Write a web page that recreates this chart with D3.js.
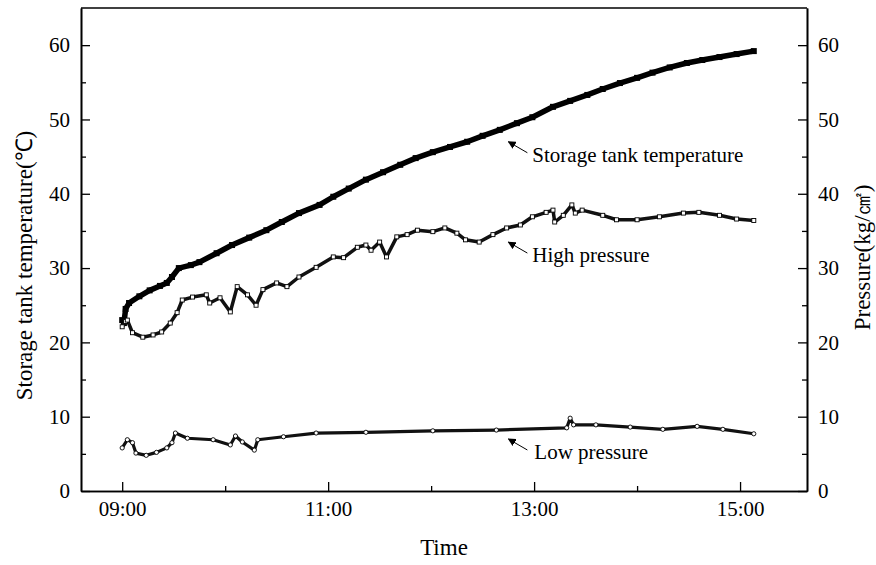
<!DOCTYPE html>
<html>
<head>
<meta charset="utf-8">
<script src="https://cdn.jsdelivr.net/npm/d3@7"></script>
<style>
  body { margin: 0; background: #fff; }
  svg text { font-family: "Liberation Serif", "Times New Roman", serif; fill: #000; }
</style>
</head>
<body>
<svg id="chart"></svg>
<script>
// storage tank temperature (left axis, ℃)
var tempTimes = ["09:00", "09:01", "09:02", "09:04", "09:10", "09:16", "09:22", "09:26", "09:29", "09:33",
                 "09:40", "09:45", "09:55", "10:04", "10:14", "10:24", "10:33", "10:43", "10:55", "11:03",
                 "11:12", "11:22", "11:32", "11:42", "11:51", "12:01", "12:11", "12:21", "12:30", "12:40",
                 "12:50", "12:59", "13:11", "13:21", "13:31", "13:40", "13:50", "14:00", "14:09", "14:19",
                 "14:29", "14:38", "14:48", "14:58", "15:08"];
var tempValues = [23.0, 22.6, 24.5, 25.3, 26.2, 27.0, 27.6, 28.0, 28.8, 30.0,
                  30.4, 30.8, 32.0, 33.1, 34.1, 35.1, 36.2, 37.4, 38.5, 39.6,
                  40.7, 41.9, 42.9, 43.9, 44.8, 45.6, 46.3, 47.0, 47.8, 48.6,
                  49.5, 50.3, 51.7, 52.5, 53.3, 54.1, 54.9, 55.6, 56.3, 57.0,
                  57.6, 58.0, 58.4, 58.8, 59.2];

// high pressure (right axis, kg/㎠)
var highTimes = ["09:00", "09:02", "09:03", "09:06", "09:12", "09:18", "09:23", "09:28", "09:32", "09:35",
                 "09:41", "09:49", "09:51", "09:57", "10:03", "10:07", "10:13", "10:18", "10:22", "10:30",
                 "10:36", "10:43", "10:53", "11:03", "11:09", "11:17", "11:22", "11:25", "11:30", "11:34",
                 "11:40", "11:46", "11:52", "12:01", "12:08", "12:15", "12:20", "12:28", "12:36", "12:44",
                 "12:52", "12:59", "13:07", "13:11", "13:12", "13:17", "13:22", "13:24", "13:28", "13:40",
                 "13:48", "14:00", "14:13", "14:27", "14:36", "14:48", "14:58", "15:08"];
var highValues = [22.1, 22.8, 23.0, 21.3, 20.7, 21.0, 21.4, 22.6, 24.0, 25.7,
                  26.1, 26.4, 25.3, 26.0, 24.1, 27.5, 26.4, 25.0, 27.1, 28.0,
                  27.5, 28.8, 30.1, 31.5, 31.4, 32.8, 33.1, 32.4, 33.5, 31.5,
                  34.2, 34.5, 35.1, 34.9, 35.4, 34.7, 33.8, 33.5, 34.5, 35.4,
                  35.8, 36.9, 37.5, 37.8, 36.2, 37.1, 38.5, 37.4, 37.8, 37.1,
                  36.5, 36.5, 36.9, 37.4, 37.5, 37.1, 36.6, 36.4];

// low pressure (right axis, kg/㎠)
var lowTimes = ["09:00", "09:03", "09:06", "09:08", "09:14", "09:20", "09:26", "09:29", "09:31", "09:38",
                "09:53", "10:03", "10:06", "10:10", "10:17", "10:19", "10:34", "10:53", "11:22", "12:01",
                "12:38", "13:19", "13:21", "13:23", "13:36", "13:56", "14:15", "14:35", "14:50", "15:08"];
var lowValues = [5.8, 6.9, 6.5, 5.1, 4.8, 5.2, 5.8, 6.5, 7.8, 7.1,
                 6.9, 6.2, 7.4, 6.6, 5.5, 6.9, 7.3, 7.8, 7.9, 8.1,
                 8.2, 8.5, 9.8, 8.9, 8.9, 8.6, 8.3, 8.7, 8.3, 7.7];

var xTickLabels = ["09:00", "11:00", "13:00", "15:00"];
var xMinorTicks = ["10:00", "12:00", "14:00"];
var yTicks = [0, 10, 20, 30, 40, 50, 60];
var yMinorTicks = [5, 15, 25, 35, 45, 55];

// annotation: text, arrow tip at [time, value]
var labelNames = ["Storage tank temperature", "High pressure", "Low pressure"];
var labelTimes = ["12:45", "12:45", "12:45"];
var labelValues = [47.0, 33.5, 7.0];

var W = 876, H = 565;
var margin = { top: 8, right: 69, bottom: 74, left: 81 };
var width = W - margin.left - margin.right,
    height = H - margin.top - margin.bottom;

var parse = d3.timeParse("%H:%M");

var svg = d3.select("#chart")
    .attr("width", W)
    .attr("height", H);

var g = svg.append("g")
    .attr("transform", "translate(" + margin.left + "," + margin.top + ")");

var x = d3.scaleTime()
    .domain([parse("08:36"), parse("15:39")])
    .range([0, width]);

var y = d3.scaleLinear()
    .domain([0, 65])
    .range([height, 0]);

var yP = d3.scaleLinear()
    .domain([0, 65])
    .range([height, 0]);

// axes
var xAxis = d3.axisBottom(x)
    .tickValues(xTickLabels.map(parse))
    .tickFormat(d3.timeFormat("%H:%M"))
    .tickSizeInner(-9).tickSizeOuter(0).tickPadding(10);
var xMinor = d3.axisBottom(x)
    .tickValues(xMinorTicks.map(parse))
    .tickFormat("")
    .tickSizeInner(-5).tickSizeOuter(0);
var yAxis = d3.axisLeft(y).tickValues(yTicks)
    .tickSizeInner(-9).tickSizeOuter(0).tickPadding(11);
var yMinor = d3.axisLeft(y).tickValues(yMinorTicks).tickFormat("")
    .tickSizeInner(-5).tickSizeOuter(0);
var yRight = d3.axisRight(yP).tickValues(yTicks)
    .tickSizeInner(-9).tickSizeOuter(0).tickPadding(11);
var yRightMinor = d3.axisRight(yP).tickValues(yMinorTicks).tickFormat("")
    .tickSizeInner(-5).tickSizeOuter(0);

function styleAxis(sel) {
    sel.selectAll(".domain").attr("stroke", "#000").attr("stroke-width", 1.6);
    sel.selectAll(".tick line").attr("stroke", "#000").attr("stroke-width", 1.3);
    sel.selectAll("text").style("font-size", "21px").attr("fill", "#000");
}

g.append("g").attr("transform", "translate(0," + height + ")").call(xAxis).call(styleAxis);
g.append("g").attr("transform", "translate(0," + height + ")").call(xMinor).call(styleAxis);
g.append("g").call(yAxis).call(styleAxis);
g.append("g").call(yMinor).call(styleAxis);
g.append("g").attr("transform", "translate(" + width + ",0)").call(yRight).call(styleAxis);
g.append("g").attr("transform", "translate(" + width + ",0)").call(yRightMinor).call(styleAxis);

g.append("line")
    .attr("x1", 0).attr("x2", width).attr("y1", 0).attr("y2", 0)
    .attr("stroke", "#000").attr("stroke-width", 1.6);

// axis titles
svg.append("text")
    .attr("transform", "translate(32," + (margin.top + height / 2 + 16) + ") rotate(-90)")
    .attr("text-anchor", "middle")
    .style("font-size", "23px")
    .text("Storage tank temperature(℃)");

svg.append("text")
    .attr("transform", "translate(870," + (margin.top + height / 2 + 8) + ") rotate(-90)")
    .attr("text-anchor", "middle")
    .style("font-size", "23px")
    .text("Pressure(kg/㎠)");

svg.append("text")
    .attr("x", margin.left + width / 2)
    .attr("y", 555)
    .attr("text-anchor", "middle")
    .style("font-size", "23px")
    .text("Time");

// series
function series(times, values) {
    return times.map(function(t, i) { return { t: parse(t), v: values[i] }; });
}
var tempData = series(tempTimes, tempValues),
    highData = series(highTimes, highValues),
    lowData = series(lowTimes, lowValues);

var lineT = d3.line().x(function(d) { return x(d.t); }).y(function(d) { return y(d.v); });
var lineP = d3.line().x(function(d) { return x(d.t); }).y(function(d) { return yP(d.v); });

g.append("path").datum(tempData)
    .attr("d", lineT).attr("fill", "none")
    .attr("stroke", "#000").attr("stroke-width", 5.5).attr("stroke-linejoin", "round");
g.selectAll(".pt-temp").data(tempData).enter().append("rect")
    .attr("class", "pt-temp")
    .attr("x", function(d) { return x(d.t) - 3; })
    .attr("y", function(d) { return y(d.v) - 3; })
    .attr("width", 6).attr("height", 6)
    .attr("fill", "#000");

g.append("path").datum(highData)
    .attr("d", lineP).attr("fill", "none")
    .attr("stroke", "#111").attr("stroke-width", 3.5).attr("stroke-linejoin", "round");
g.selectAll(".pt-high").data(highData).enter().append("rect")
    .attr("class", "pt-high")
    .attr("x", function(d) { return x(d.t) - 2; })
    .attr("y", function(d) { return yP(d.v) - 2; })
    .attr("width", 4).attr("height", 4)
    .attr("fill", "#fff").attr("stroke", "#000").attr("stroke-width", 0.9);

g.append("path").datum(lowData)
    .attr("d", lineP).attr("fill", "none")
    .attr("stroke", "#111").attr("stroke-width", 3.2).attr("stroke-linejoin", "round");
g.selectAll(".pt-low").data(lowData).enter().append("circle")
    .attr("class", "pt-low")
    .attr("cx", function(d) { return x(d.t); })
    .attr("cy", function(d) { return yP(d.v); })
    .attr("r", 2.1)
    .attr("fill", "#fff").attr("stroke", "#000").attr("stroke-width", 0.9);

// annotations with arrows
svg.append("defs").append("marker")
    .attr("id", "arrow")
    .attr("viewBox", "0 0 10 10")
    .attr("refX", 9).attr("refY", 5)
    .attr("markerWidth", 8).attr("markerHeight", 8)
    .attr("markerUnits", "userSpaceOnUse")
    .attr("orient", "auto")
    .append("path")
    .attr("d", "M0,0 L10,5 L0,10 Z")
    .attr("fill", "#000");

labelNames.forEach(function(name, i) {
    var tx = x(parse(labelTimes[i])), ty = y(labelValues[i]);
    g.append("line")
        .attr("x1", tx + 19).attr("y1", ty + 11)
        .attr("x2", tx).attr("y2", ty)
        .attr("stroke", "#000").attr("stroke-width", 1)
        .attr("marker-end", "url(#arrow)");
    g.append("text")
        .attr("x", tx + 24 + (i === 2 ? 2 : 0))
        .attr("y", ty + 20)
        .style("font-size", "21px")
        .text(name);
});
</script>
</body>
</html>
